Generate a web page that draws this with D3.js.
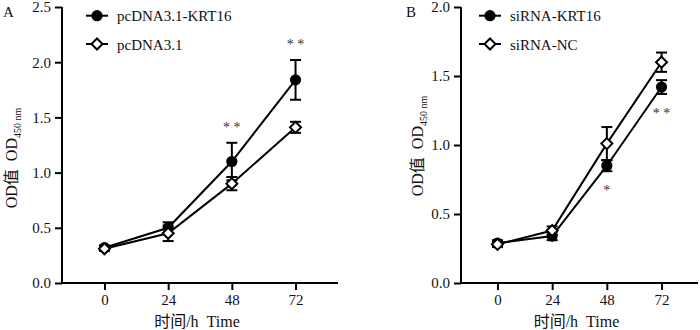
<!DOCTYPE html>
<html><head><meta charset="utf-8">
<script src="https://cdn.jsdelivr.net/npm/d3@7"></script>
<style>
body{margin:0;background:#fff;}
svg text{font-family:"Liberation Serif","Times New Roman","Noto Sans CJK SC",serif !important;fill:#111;}
</style></head><body>
<svg id="c" width="700" height="330"></svg>
<script>
const times = [0, 24, 48, 72];
const xTickLabels = ["0", "24", "48", "72"];

// Panel A
const aNames = ["pcDNA3.1-KRT16", "pcDNA3.1"];
const aKrt16 = [0.32, 0.50, 1.10, 1.84];
const aKrt16Err = [0.02, 0.05, 0.17, 0.18];
const aCtrl = [0.31, 0.45, 0.90, 1.41];
const aCtrlErr = [0.02, 0.07, 0.06, 0.05];
const aYTicks = [0, 0.5, 1.0, 1.5, 2.0, 2.5];
const aStars = [{t: 48, label: "*\u00a0*", side: "above"}, {t: 72, label: "*\u00a0*", side: "above"}];

// Panel B
const bNames = ["siRNA-KRT16", "siRNA-NC"];
const bKrt16 = [0.29, 0.34, 0.85, 1.42];
const bKrt16Err = [0.02, 0.03, 0.04, 0.05];
const bNC = [0.28, 0.38, 1.01, 1.60];
const bNCErr = [0.02, 0.03, 0.12, 0.07];
const bYTicks = [0, 0.5, 1.0, 1.5, 2.0];
const bStars = [{t: 48, label: "*", side: "below"}, {t: 72, label: "*\u00a0*", side: "below"}];

const FONT = '"Liberation Serif","Times New Roman","Noto Sans CJK SC",serif';
const svg = d3.select("#c");

function panel(cfg) {
  const g = svg.append("g");
  const x = d3.scaleLinear().domain([-16, 88]).range([cfg.x0, cfg.x1]);
  const y = d3.scaleLinear().domain([0, cfg.yMax]).range([283, 7]);

  const yAxis = g.append("g").attr("transform", `translate(${cfg.x0},0)`)
    .call(d3.axisLeft(y).tickValues(cfg.yTicks).tickFormat(d3.format(".1f")).tickSize(7).tickPadding(4).tickSizeOuter(0));
  const xAxis = g.append("g").attr("transform", `translate(0,283)`)
    .call(d3.axisBottom(x).tickValues(times).tickFormat((d, i) => xTickLabels[i]).tickSize(7).tickPadding(4).tickSizeOuter(0));
  [yAxis, xAxis].forEach(a => {
    a.attr("font-family", FONT);
    a.selectAll("path,line").attr("stroke", "#000").attr("stroke-width", 2);
    a.selectAll("text").style("font-size", "15px").style("font-family", FONT).attr("fill", "#111");
  });
  yAxis.select("path.domain").attr("d", `M0,${y(0)+1}V${y(cfg.yMax)}`);
  xAxis.select("path.domain").attr("d", `M${cfg.x0-1},0H${cfg.x1}`);

  // x title
  g.append("text").attr("x", (cfg.x0 + cfg.x1) / 2 - 3).attr("y", 327)
    .attr("text-anchor", "middle").style("font-size", "16px").text("时间/h\u00a0\u00a0Time");
  // y title
  const yt = g.append("text").attr("transform", `translate(${cfg.ytX},${cfg.ytY}) rotate(-90)`)
    .attr("text-anchor", "middle").style("font-size", "16px");
  yt.append("tspan").text("OD值\u00a0\u00a0OD");
  yt.append("tspan").attr("dy", 4).style("font-size", "10px").text("450\u00a0nm");
  // panel letter
  g.append("text").attr("x", cfg.letterX).attr("y", 17).style("font-size", "15px").text(cfg.letter);

  const series = [
    {vals: cfg.s1, err: cfg.e1, shape: "circle"},
    {vals: cfg.s0, err: cfg.e0, shape: "diamond"}
  ];
  const line = d3.line().x((d, i) => x(times[i])).y(d => y(d));

  function drawMarker(sel, shape, cx, cy) {
    if (shape === "circle") {
      sel.append("circle").attr("cx", cx).attr("cy", cy).attr("r", 5.6).attr("fill", "#000");
    } else {
      const r = 5.5;
      sel.append("path").attr("d", `M${cx},${cy - r}L${cx + r},${cy}L${cx},${cy + r}L${cx - r},${cy}Z`)
        .attr("fill", "#fff").attr("stroke", "#000").attr("stroke-width", 2);
    }
  }

  series.forEach(s => {
    g.append("path").datum(s.vals).attr("d", line).attr("fill", "none").attr("stroke", "#000").attr("stroke-width", 2);
  });
  series.forEach(s => {
    s.vals.forEach((v, i) => {
      const cx = x(times[i]);
      const top = y(v + s.err[i]), bot = y(v - s.err[i]);
      g.append("line").attr("x1", cx).attr("x2", cx).attr("y1", top).attr("y2", bot).attr("stroke", "#000").attr("stroke-width", 2);
      [top, bot].forEach(yy => g.append("line").attr("x1", cx - 5.5).attr("x2", cx + 5.5).attr("y1", yy).attr("y2", yy).attr("stroke", "#000").attr("stroke-width", 2));
    });
  });
  series.forEach(s => {
    s.vals.forEach((v, i) => drawMarker(g, s.shape, x(times[i]), y(v)));
  });

  cfg.stars.forEach(st => {
    const i = times.indexOf(st.t);
    const v = cfg.s1[i], e = cfg.e1[i];
    const yy = st.side === "above" ? y(v + e) - 11 : y(v - e) + 24;
    g.append("text").attr("x", x(st.t)).attr("y", yy).attr("text-anchor", "middle")
      .style("font-size", "14px").style("fill", "#333").text(st.label);
  });

  const names = cfg.names;
  [{shape: "circle", name: names[0], yy: 15.7}, {shape: "diamond", name: names[1], yy: 44}].forEach(L => {
    g.append("line").attr("x1", cfg.legX - 11).attr("x2", cfg.legX + 11).attr("y1", L.yy).attr("y2", L.yy)
      .attr("stroke", "#000").attr("stroke-width", 2);
    drawMarker(g, L.shape, cfg.legX, L.yy);
    g.append("text").attr("x", cfg.legX + 20).attr("y", L.yy + 5.5).style("font-size", "15px").text(L.name);
  });
}

panel({x0: 62, x1: 338, yMax: 2.5, yTicks: aYTicks, s1: aKrt16, e1: aKrt16Err, s0: aCtrl, e0: aCtrlErr,
  names: aNames, stars: aStars, letter: "A", letterX: 3, ytX: 17, ytY: 158, legX: 97});
panel({x0: 461, x1: 698, yMax: 2.0, yTicks: bYTicks, s1: bKrt16, e1: bKrt16Err, s0: bNC, e0: bNCErr,
  names: bNames, stars: bStars, letter: "B", letterX: 406, ytX: 423, ytY: 146, legX: 490});
</script>
</body></html>
